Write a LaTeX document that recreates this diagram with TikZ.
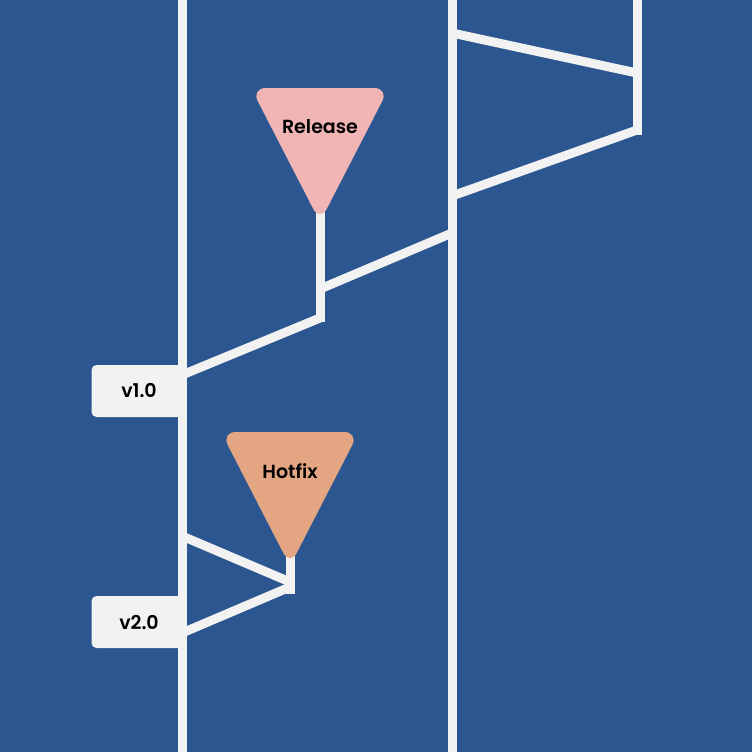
\documentclass[tikz,border=0pt]{standalone}
\usepackage{fontspec}
\setmainfont{Poppins}[UprightFont=* SemiBold]
\definecolor{bg}{RGB}{43,86,144}
\definecolor{rail}{RGB}{242,242,242}
\definecolor{relpink}{RGB}{241,181,181}
\definecolor{hotorange}{RGB}{227,165,130}
\tikzset{
	rail/.style={draw=rail, line width=9pt},
	tag/.style={fill=rail, rounded corners=5pt, minimum width=95pt, minimum height=52pt, inner sep=0pt},
	flag/.style={rounded corners=15pt},
}
\begin{document}
\begin{tikzpicture}[x=1pt,y=-1pt, font=\fontsize{19}{22}\selectfont]
	\useasboundingbox (0,0) rectangle (752,752);
	\fill[bg] (0,0) rectangle (752,752);
	\def\ma{182} \def\mb{452} \def\mc{637} % Nhánh
	% Các điểm
	\coordinate (c1) at (\mb,33);  \coordinate (c2) at (\mc,73);
	\coordinate (c3) at (\mc,130); \coordinate (c4) at (\mb,196);
	\coordinate (c5) at (\mb,233); \coordinate (c6) at (320,289);
	\coordinate (c7) at (320,318); \coordinate (c8) at (\ma,375);
	\coordinate (c9) at (\ma,536); \coordinate (c10) at (290,582);
	\coordinate (c11) at (290,587); \coordinate (c12) at (\ma,633);
	\coordinate (rel) at (320,200);
	\coordinate (hot) at (290,544);
	\draw[rail] (rel)--(320,322);
	\draw[rail] (hot)--(290,594);
	% Cờ
	\fill[relpink,flag] (251,88)--(389,88)--(320,222)--cycle;
	\fill[hotorange,flag] (221,432)--(359,432)--(290,566)--cycle;
	\node (release) at (320,127) {Release};
	\node (hotfix) at (290,471) {Hotfix};
	\node[tag] (v1) at (139,391) {v1.0};
	\node[tag] (v2) at (139,622) {v2.0};
	% Đường nối
	\foreach \p/\q in {c1/c2,c3/c4,c5/c6,c7/c8,c9/c10,c11/c12}
	\draw[rail] (\p)--(\q);
	\foreach \x in {\ma,\mb}
	\draw[rail] (\x,0)--(\x,752);
	\draw[rail] (\mc,0)--(\mc,134.5);
\end{tikzpicture}
\end{document}
